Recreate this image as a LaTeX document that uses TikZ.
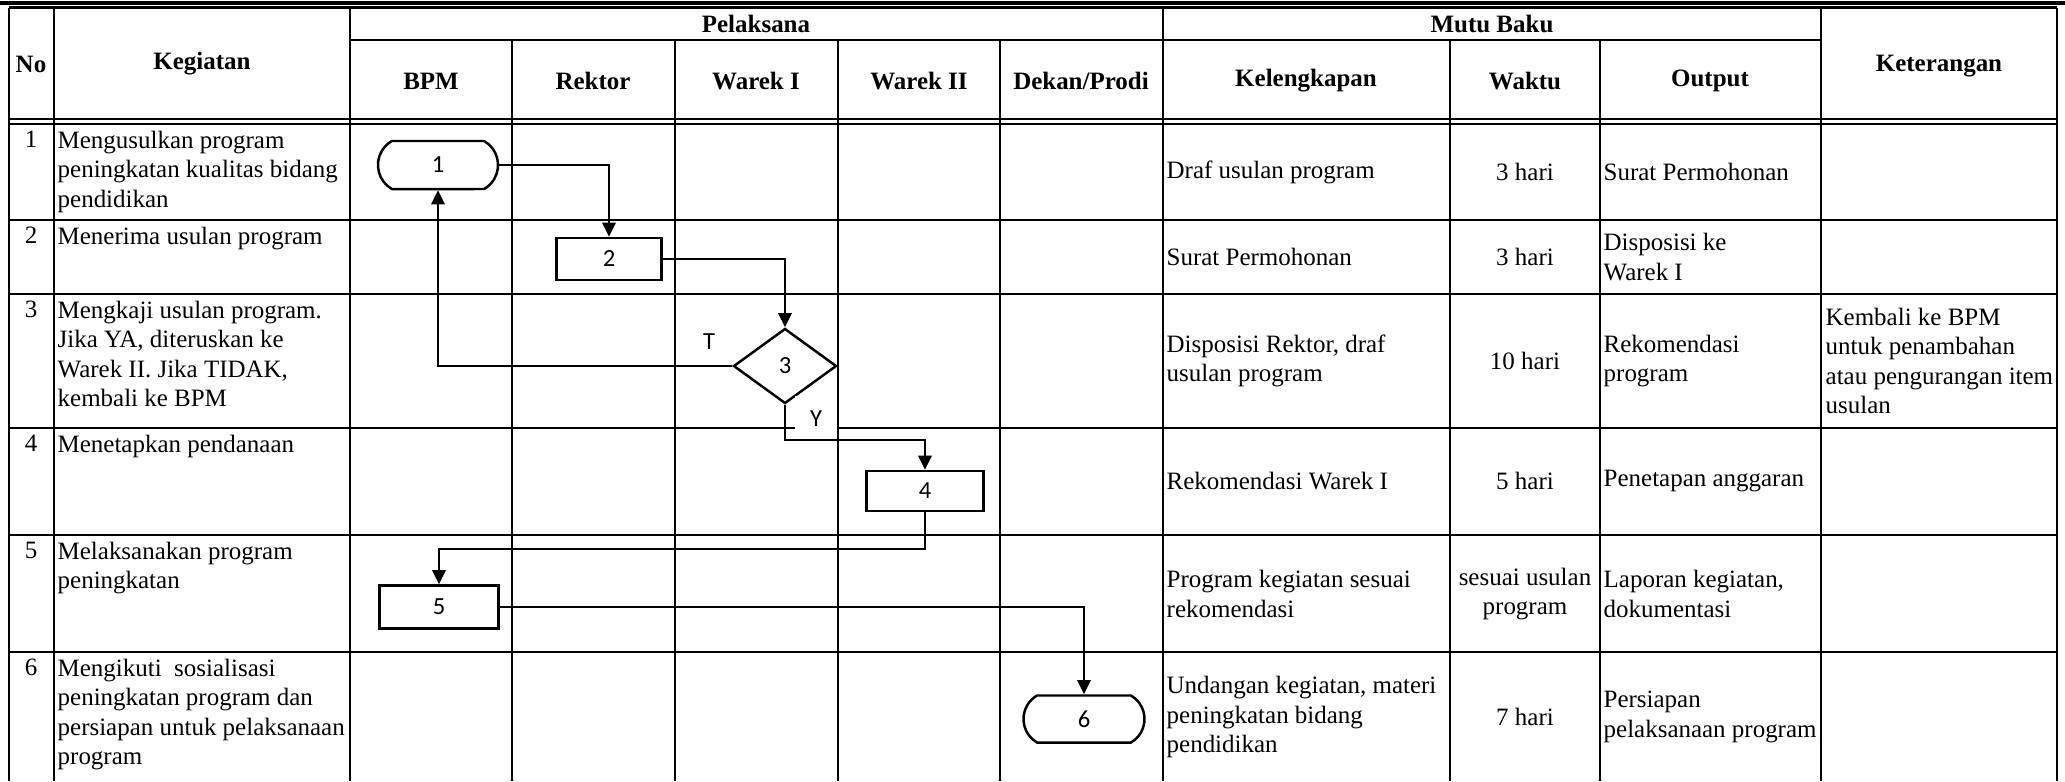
\documentclass[tikz,border=0pt]{standalone}
\usepackage{fontspec}
\setmainfont{Liberation Serif}
\newfontfamily\shapefont{Carlito}
\usetikzlibrary{arrows.meta, shapes.geometric, shapes.misc, positioning, calc}
\tikzset{
  gridline/.style={line width=0.75pt},
  hd/.style={font=\fontsize{7.1}{8.4}\selectfont\bfseries, inner sep=0pt},
  txt/.style={font=\fontsize{7.1}{8.4}\selectfont, align=left, inner sep=0pt},
  flowbox/.style={draw=black, line width=0.7pt, fill=white, inner sep=0pt,
    font=\shapefont\fontsize{7}{7}\selectfont},
  proc/.style={flowbox, rectangle},
  termnode/.style={flowbox, rounded rectangle, rounded rectangle arc length=120},
  decide/.style={flowbox, diamond},
  edge/.style={-{Triangle[length=4pt,width=3.8pt]}, line width=0.6pt},
  flag/.style={inner sep=0pt, font=\shapefont\fontsize{7}{7}\selectfont}
}

\begin{document}
\begin{tikzpicture}[x=0.01cm, y=-0.01cm]
    \useasboundingbox (0,0) rectangle (2065,781);

    % table frame
    \draw[line width=1.4pt] (0,3) -- (2065,3);
    \draw[gridline] (9,7.5) -- (2057,7.5);
    \foreach \x in {9,54,350,1163,1821,2057}
      \draw[gridline] (\x,7.5) -- (\x,781);
    \foreach \x in {512,675,838,1000,1450,1600}
      \draw[gridline] (\x,40) -- (\x,781);
    \draw[gridline] (350,40) -- (1821,40);
    \draw[gridline] (9,119) -- (2057,119);
    \draw[line width=0.6pt] (9,124) -- (2057,124);
    \foreach \y in {220,294,428,535,652}
      \draw[gridline] (9,\y) -- (2057,\y);

    % headers
    \node[hd] (hno) at (31,64) {No};
    \node[hd] (hkeg) at (202,64) {Kegiatan};
    \node[hd] (hpel) at (756,24) {Pelaksana};
    \node[hd] (hmutu) at (1492,24) {Mutu Baku};
    \node[hd] (hket) at (1939,66) {Keterangan};
    \foreach \x/\lbl [count=\i] in {431/BPM,593/Rektor,756/Warek I,919/Warek II,1081/{Dekan/Prodi},
        1306/Kelengkapan,1525/Waktu,1710/Output}
      \node[hd] (hcol\i) at (\x,81) {\lbl};

    % kegiatan
    \foreach \n/\t in {1/124,2/220,3/294,4/428,5/535,6/652}
      \node[txt, anchor=north] (no\n) at (31,\t+6) {\n};
    \node[txt, anchor=north west] (keg1) at (57,130) {Mengusulkan program\\peningkatan kualitas bidang\\pendidikan};
    \node[txt, anchor=north west] (keg2) at (57,226) {Menerima usulan program};
    \node[txt, anchor=north west] (keg3) at (57,300) {Mengkaji usulan program.\\Jika YA, diteruskan ke\\Warek II. Jika TIDAK,\\kembali ke BPM};
    \node[txt, anchor=north west] (keg4) at (57,434) {Menetapkan pendanaan};
    \node[txt, anchor=north west] (keg5) at (57,541) {Melaksanakan program\\peningkatan};
    \node[txt, anchor=north west] (keg6) at (57,658) {Mengikuti\ \ sosialisasi\\peningkatan program dan\\persiapan untuk pelaksanaan\\program};

    % mutu baku
    \node[txt, anchor=west] (kel1) at (1166,172) {Draf usulan program};
    \node[txt, anchor=west] (kel2) at (1166,257) {Surat Permohonan};
    \node[txt, anchor=west] (kel3) at (1166,361) {Disposisi Rektor, draf\\usulan program};
    \node[txt, anchor=west] (kel4) at (1166,481) {Rekomendasi Warek I};
    \node[txt, anchor=west] (kel5) at (1166,594) {Program kegiatan sesuai\\rekomendasi};
    \node[txt, anchor=west] (kel6) at (1166,717) {Undangan kegiatan, materi\\peningkatan bidang\\pendidikan};

    \node[txt, align=center] (wak1) at (1525,172) {3 hari};
    \node[txt, align=center] (wak2) at (1525,257) {3 hari};
    \node[txt, align=center] (wak3) at (1525,361) {10 hari};
    \node[txt, align=center] (wak4) at (1525,481) {5 hari};
    \node[txt, align=center] (wak5) at (1525,594) {sesuai usulan\\program};
    \node[txt, align=center] (wak6) at (1525,717) {7 hari};

    \node[txt, anchor=west] (out1) at (1603,172) {Surat Permohonan};
    \node[txt, anchor=west] (out2) at (1603,257) {Disposisi ke\\Warek I};
    \node[txt, anchor=west] (out3) at (1603,361) {Rekomendasi\\program};
    \node[txt, anchor=west] (out4) at (1603,481) {Penetapan anggaran};
    \node[txt, anchor=west] (out5) at (1603,594) {Laporan kegiatan,\\dokumentasi};
    \node[txt, anchor=west] (out6) at (1603,717) {Persiapan\\pelaksanaan program};

    \node[txt, anchor=west] (ket3) at (1825,361) {Kembali ke BPM\\untuk penambahan\\atau pengurangan item\\usulan};

    % flow
    \node[termnode, minimum width=1.2cm, minimum height=0.48cm] (s1) at (438,165) {1};
    \node[proc, minimum width=1.05cm, minimum height=0.42cm] (s2) at (609,259) {2};
    \node[decide, minimum width=1.03cm, minimum height=0.75cm] (s3) at (785,366) {3};
    \node[proc, minimum width=1.17cm, minimum height=0.4cm] (s4) at (925,491) {4};
    \node[proc, minimum width=1.19cm, minimum height=0.43cm] (s5) at (439,607) {5};
    \node[termnode, minimum width=1.21cm, minimum height=0.47cm] (s6) at (1084,719) {6};

    \draw[edge] (s1.east) -| (s2.north);
    \draw[edge] (s2.east) -| (s3.north);
    \draw[edge] (s3.west) -| (s1.south);
    \draw[edge] (s3.south) -- ++(0,35) -| (s4.north);
    \draw[edge] (s4.south) -- ++(0,37) -| (s5.north);
    \draw[edge] (s5.east) -| (s6.north);

    \node[flag] (lt) at (709,342) {T};
    \node[flag, fill=white, minimum width=0.42cm, text height=0.3cm, text depth=0.05cm] (ly) at (816,413.5) {Y};
\end{tikzpicture}
\end{document}
